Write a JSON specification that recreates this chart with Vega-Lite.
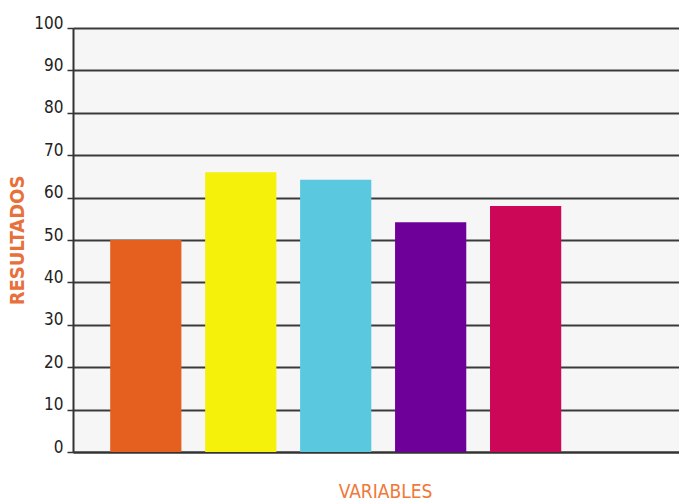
{
  "$schema": "https://vega.github.io/schema/vega-lite/v6.json",
  "width": 606,
  "height": 424,
  "autosize": {"type": "none"},
  "padding": {"left": 73, "top": 28, "right": 0, "bottom": 52},
  "background": "white",
  "view": {"fill": "#f6f6f6", "stroke": null},
  "data": {
    "values": [
      {"variable": "V1", "resultado": 50, "color": "#e5601f"},
      {"variable": "V2", "resultado": 66, "color": "#f5f10a"},
      {"variable": "V3", "resultado": 64.2, "color": "#5ac8de"},
      {"variable": "V4", "resultado": 54.2, "color": "#6e0099"},
      {"variable": "V5", "resultado": 58, "color": "#cc0757"}
    ]
  },
  "mark": {"type": "bar"},
  "encoding": {
    "x": {
      "field": "variable",
      "type": "nominal",
      "sort": null,
      "scale": {"paddingInner": 0.25, "paddingOuter": 0.816, "align": 0.24},
      "axis": {
        "title": "VARIABLES",
        "titleColor": "#f07838",
        "titleFont": "DejaVu Sans Condensed",
        "titleFontSize": 19,
        "titleFontWeight": "normal",
        "titlePadding": 30,
        "titleX": 312,
        "labels": false,
        "ticks": false,
        "domainColor": "#333333",
        "domainWidth": 2
      }
    },
    "y": {
      "field": "resultado",
      "type": "quantitative",
      "scale": {"domain": [0, 100]},
      "axis": {
        "title": "RESULTADOS",
        "titleColor": "#e8703a",
        "titleFont": "DejaVu Sans Condensed",
        "titleFontSize": 20,
        "titleFontWeight": "bold",
        "titlePadding": 6,
        "values": [0, 10, 20, 30, 40, 50, 60, 70, 80, 90, 100],
        "grid": true,
        "gridColor": "#3a3a3a",
        "gridWidth": 2,
        "gridOpacity": 1,
        "domainColor": "#333333",
        "domainWidth": 2,
        "tickColor": "#333333",
        "tickSize": 6,
        "tickWidth": 1.5,
        "labelFont": "DejaVu Sans Condensed",
        "labelFontSize": 17,
        "labelColor": "#222222",
        "labelBaseline": "alphabetic",
        "labelPadding": 4
      }
    },
    "color": {"field": "color", "type": "nominal", "scale": null, "legend": null}
  }
}
